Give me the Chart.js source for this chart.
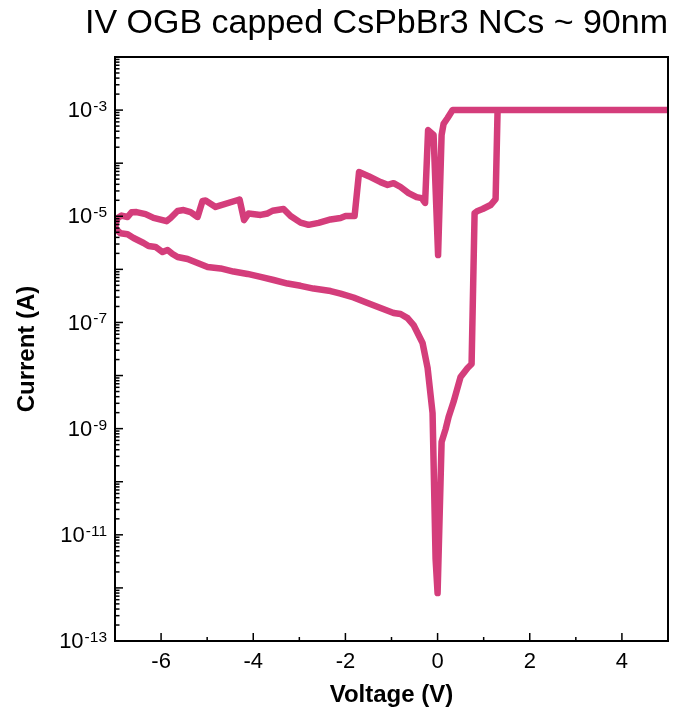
<!DOCTYPE html>
<html>
<head>
<meta charset="utf-8">
<script src="https://cdn.jsdelivr.net/npm/chart.js@4.4.1/dist/chart.umd.min.js"></script>
<style>
html,body{margin:0;padding:0;background:#ffffff;}
#wrap{width:681px;height:715px;}
</style>
</head>
<body>
<div id="wrap"><canvas id="c" width="681" height="715"></canvas></div>
<script>
// ---- Data (Voltage in V, Current in A) ----
// Forward sweep 0 V -> +5 V
const forwardVoltage = [0, 0.087, 0.174, 0.239, 0.347, 0.499, 0.651, 0.738, 0.803, 0.868, 0.977, 1.150, 1.259, 1.302, 5.0];
const forwardCurrent = [8.0e-13, 5.6e-10, 9.8e-10, 1.66e-9, 3.2e-9, 9.4e-9, 1.39e-8, 1.65e-8, 1.15e-5, 1.26e-5, 1.37e-5, 1.63e-5, 2.1e-5, 1e-3, 1e-3];

// Return sweep +5 V -> -7 V
const returnVoltage = [0.326, 0.217, 0.130, 0.087, 0.011, -0.087, -0.206, -0.271, -0.347, -0.456,
  -0.629, -0.803, -0.955, -1.085, -1.237, -1.497, -1.704, -1.801, -1.997, -2.105,
  -2.322, -2.582, -2.799, -2.973, -3.190, -3.342, -3.581, -3.689, -3.841, -4.102,
  -4.199, -4.297, -4.818, -5.035, -5.100, -5.208, -5.360, -5.512, -5.642, -5.794,
  -5.881, -6.163, -6.337, -6.532, -6.641, -6.727, -6.858, -6.944, -6.988];
const returnCurrent = [1e-3, 7.1e-4, 5.5e-4, 3.4e-4, 1.86e-6, 3.4e-4, 4.2e-4, 1.78e-5, 2.2e-5, 2.3e-5,
  2.74e-5, 3.56e-5, 4.2e-5, 3.9e-5, 4.4e-5, 5.7e-5, 6.8e-5, 1.01e-5, 1.01e-5, 9.3e-6,
  8.7e-6, 7.5e-6, 6.9e-6, 7.6e-6, 1.01e-5, 1.37e-5, 1.27e-5, 1.13e-5, 1.06e-5, 1.13e-5,
  8.5e-6, 2.07e-5, 1.5e-5, 1.98e-5, 1.95e-5, 9.7e-6, 1.2e-5, 1.31e-5, 1.26e-5, 9.3e-6,
  8.1e-6, 9.3e-6, 1.1e-5, 1.2e-5, 1.19e-5, 9.7e-6, 1.03e-5, 9.3e-6, 7.1e-6];

// Final sweep -7 V -> 0 V
const finalVoltage = [-6.99, -6.88, -6.727, -6.597, -6.380, -6.272, -6.120, -5.968, -5.859, -5.751,
  -5.642, -5.425, -5.208, -4.991, -4.709, -4.427, -4.123, -3.841, -3.559, -3.255,
  -2.973, -2.691, -2.322, -2.105, -1.823, -1.519, -1.237, -0.955, -0.803, -0.651,
  -0.521, -0.326, -0.217, -0.109, -0.043, 0];
const finalCurrent = [5.8e-6, 4.8e-6, 4.6e-6, 3.9e-6, 3.14e-6, 2.75e-6, 2.64e-6, 2.12e-6, 2.32e-6, 1.95e-6,
  1.71e-6, 1.57e-6, 1.32e-6, 1.11e-6, 1.04e-6, 9.1e-7, 8.2e-7, 7.2e-7, 6.3e-7, 5.4e-7,
  4.9e-7, 4.35e-7, 3.9e-7, 3.5e-7, 2.95e-7, 2.32e-7, 1.87e-7, 1.51e-7, 1.44e-7, 1.21e-7,
  8.95e-8, 4.1e-8, 1.39e-8, 1.97e-9, 3.5e-12, 8.0e-13];

// ---- Axis ticks / labels ----
const xMajorTicks = [-6, -4, -2, 0, 2, 4];
const xTickLabels = ['-6', '-4', '-2', '0', '2', '4'];
const xMinorTicks = [-5, -3, -1, 1, 3];
const yDecades = [-13, -12, -11, -10, -9, -8, -7, -6, -5, -4, -3, -2];
const yMinorMultipliers = [2, 3, 4, 5, 6, 7, 8, 9];
const yLabelExponents = [-3, -5, -7, -9, -11, -13];
const yLabelTexts = ['-3', '-5', '-7', '-9', '-11', '-13'];

const FONT = '"Liberation Sans", Arial, Helvetica, sans-serif';
const LINE_COLOR = '#D43D7B';

const allVoltage = forwardVoltage.concat(returnVoltage, finalVoltage);
const allCurrent = forwardCurrent.concat(returnCurrent, finalCurrent);
const points = allVoltage.map((v, i) => ({x: v, y: allCurrent[i]}));

const decorPlugin = {
  id: 'decor',
  afterDatasetsDraw(chart) {
    const {ctx, chartArea: a, scales: {x, y}} = chart;
    ctx.save();
    ctx.strokeStyle = '#000';
    ctx.lineCap = 'butt';
    // y ticks (inward)
    ctx.lineWidth = 1.5;
    yDecades.forEach(e => {
      const base = Math.pow(10, e);
      const py = y.getPixelForValue(base);
      ctx.beginPath(); ctx.moveTo(a.left, py); ctx.lineTo(a.left + 8, py); ctx.stroke();
      if (e < -2) {
        yMinorMultipliers.forEach(k => {
          const pm = y.getPixelForValue(k * base);
          ctx.beginPath(); ctx.moveTo(a.left, pm); ctx.lineTo(a.left + 4.5, pm); ctx.stroke();
        });
      }
    });
    // x ticks (inward)
    xMajorTicks.forEach(v => {
      const px = x.getPixelForValue(v);
      ctx.beginPath(); ctx.moveTo(px, a.bottom); ctx.lineTo(px, a.bottom - 8); ctx.stroke();
    });
    xMinorTicks.forEach(v => {
      const px = x.getPixelForValue(v);
      ctx.beginPath(); ctx.moveTo(px, a.bottom); ctx.lineTo(px, a.bottom - 4); ctx.stroke();
    });
    // frame
    ctx.lineWidth = 2;
    ctx.strokeRect(a.left, a.top, a.right - a.left, a.bottom - a.top);

    // x tick labels
    ctx.fillStyle = '#000';
    ctx.font = '22px ' + FONT;
    ctx.textAlign = 'center';
    ctx.textBaseline = 'middle';
    xMajorTicks.forEach((v, i) => {
      ctx.fillText(xTickLabels[i], x.getPixelForValue(v), 662);
    });

    // y tick labels: 10 with superscript exponent
    const rightEdge = 107;
    yLabelExponents.forEach((e, i) => {
      const py = y.getPixelForValue(Math.pow(10, e));
      ctx.font = '15.5px ' + FONT;
      const supW = ctx.measureText(yLabelTexts[i]).width;
      ctx.textAlign = 'right';
      ctx.textBaseline = 'alphabetic';
      ctx.fillText(yLabelTexts[i], rightEdge, py + 1);
      ctx.font = '22px ' + FONT;
      ctx.textBaseline = 'middle';
      ctx.fillText('10', rightEdge - supW - 1, py + 1);
    });
    ctx.restore();
  }
};

new Chart(document.getElementById('c'), {
  type: 'line',
  data: {
    datasets: [{
      data: points,
      borderColor: LINE_COLOR,
      backgroundColor: LINE_COLOR,
      borderWidth: 6.5,
      pointRadius: 0,
      tension: 0,
      fill: false,
      borderJoinStyle: 'round',
      borderCapStyle: 'round'
    }]
  },
  options: {
    responsive: false,
    animation: false,
    devicePixelRatio: 1,
    layout: {padding: {left: 0, right: 13, top: 0, bottom: 0}},
    plugins: {
      legend: {display: false},
      tooltip: {enabled: false},
      title: {
        display: true,
        text: 'IV OGB capped CsPbBr3 NCs ~ 90nm',
        align: 'end',
        color: '#000',
        font: {family: FONT, size: 34, weight: 'normal', lineHeight: 1.2},
        padding: {top: 3, bottom: 13.2}
      }
    },
    scales: {
      x: {
        type: 'linear',
        min: -7,
        max: 5,
        grid: {display: false},
        border: {display: false},
        ticks: {display: false},
        title: {display: true, text: 'Voltage (V)', color: '#000',
          font: {family: FONT, size: 24, weight: 'bold', lineHeight: 1.2},
          padding: {top: 0, bottom: 5.6}},
        afterFit(s) { s.height = 74; }
      },
      y: {
        type: 'logarithmic',
        min: 1e-13,
        max: 1e-2,
        grid: {display: false},
        border: {display: false},
        ticks: {display: false},
        title: {display: true, text: 'Current (A)', color: '#000',
          font: {family: FONT, size: 24, weight: 'bold', lineHeight: 1.2},
          padding: {top: 12.6, bottom: 0}},
        afterFit(s) { s.width = 115; }
      }
    }
  },
  plugins: [decorPlugin]
});
</script>
</body>
</html>
